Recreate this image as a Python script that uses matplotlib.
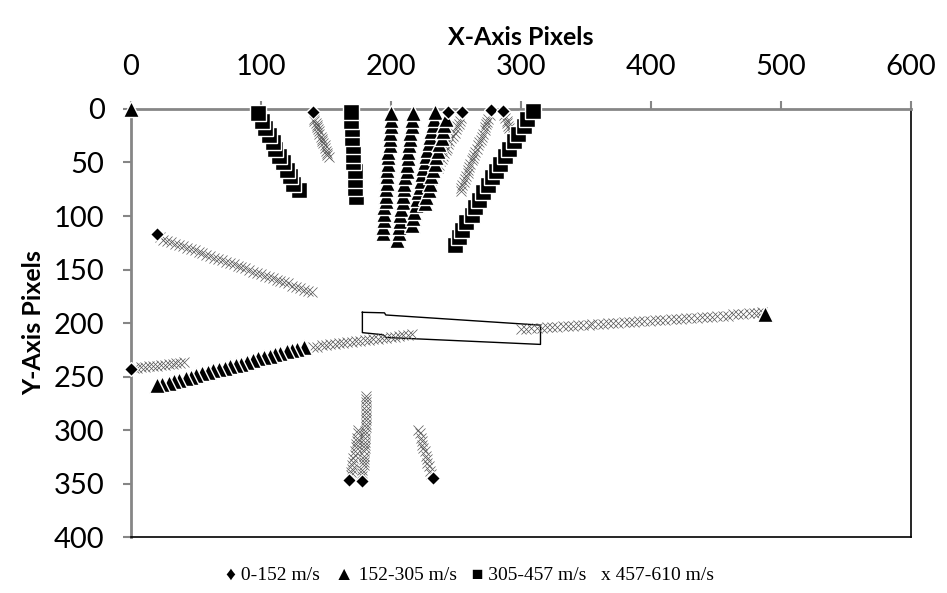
import matplotlib.pyplot as plt

plt.rcParams['font.family'] = ['Lato', 'DejaVu Sans']

# 0-152 m/s (diamonds, start points)
dia_x = [140, 20, 0, 244, 255, 277, 286, 168, 178, 232]
dia_y = [3, 117, 243, 3, 3, 1, 2, 347, 348, 345]

# 152-305 m/s (triangles)
t0_x, t0_y = [0], [0]
t6_x, t6_y = [488], [192]
t1_x = [200, 200, 200, 199, 199, 199, 198, 198, 198, 197, 197, 197, 196, 196, 196, 195, 195, 195, 194, 194]
t1_y = [4, 10, 16, 22, 28, 34, 40, 45, 51, 57, 63, 69, 75, 81, 86, 92, 98, 104, 110, 116]
t2_x = [217, 216, 216, 215, 215, 214, 213, 213, 212, 212, 211, 210, 210, 209, 209, 208, 207, 207, 206, 206, 205]
t2_y = [4, 10, 16, 22, 28, 34, 40, 46, 52, 58, 64, 70, 75, 81, 87, 93, 99, 105, 110, 116, 122]
t3_x = [234, 233, 232, 231, 230, 229, 228, 227, 226, 225, 224, 223, 222, 221, 220, 219, 218, 217, 216]
t3_y = [3, 9, 15, 21, 26, 32, 38, 44, 50, 55, 61, 67, 73, 78, 84, 90, 96, 102, 108]
t4_x = [242, 241, 240, 239, 237, 236, 235, 234, 232, 231, 230, 229, 227, 226]
t4_y = [9, 15, 21, 27, 33, 39, 45, 51, 57, 63, 70, 76, 82, 88]
t5_x = [20, 24, 29, 33, 37, 42, 46, 50, 55, 59, 63, 68, 72, 76, 81, 85, 89, 94, 98, 102, 107, 111, 115, 120, 124, 128, 133]
t5_y = [258, 257, 256, 254, 253, 251, 250, 249, 247, 246, 244, 243, 242, 240, 239, 238, 236, 235, 233, 232, 231, 229, 228, 226, 225, 224, 222]

# 305-457 m/s (squares)
s1_x = [98, 101, 103, 106, 109, 111, 114, 117, 120, 122, 125, 129]
s1_y = [4, 11, 18, 24, 31, 37, 44, 50, 57, 63, 70, 76]
s2_x = [169, 169, 170, 170, 171, 171, 171, 172, 172, 172, 173]
s2_y = [3, 11, 19, 27, 35, 43, 50, 58, 66, 74, 82]
s3_x = [309, 305, 302, 298, 295, 291, 288, 284, 281, 278, 275, 271, 268, 265, 262, 258, 255, 252, 249]
s3_y = [2, 9, 16, 23, 30, 37, 44, 51, 58, 64, 71, 78, 85, 92, 99, 106, 113, 120, 127]

# 457-610 m/s (x marks)
x1_x = [141, 141, 142, 143, 143, 144, 145, 145, 146, 147, 147, 148, 149, 149, 150, 151, 151, 152]
x1_y = [9, 11, 13, 15, 17, 19, 21, 23, 26, 28, 30, 32, 34, 36, 39, 41, 43, 45]
x2_x = [22, 25, 28, 31, 34, 37, 40, 43, 46, 49, 52, 55, 58, 61, 64, 67, 70, 73, 76, 79,
        82, 85, 88, 91, 94, 97, 100, 103, 106, 109, 112, 115, 118, 121, 124, 127, 130, 133, 136, 139]
x2_y = [120, 122, 123, 124, 126, 127, 128, 130, 131, 132, 134, 135, 136, 137, 139, 140, 141, 143, 144, 145,
        147, 148, 149, 150, 152, 153, 154, 156, 157, 158, 160, 161, 162, 163, 165, 166, 167, 169, 170, 171]
x3_x = [2, 5, 8, 11, 14, 17, 20, 23, 26, 29, 32, 35, 38, 41]
x3_y = [242, 242, 241, 241, 240, 240, 240, 239, 239, 238, 238, 237, 237, 236]
x4_x = [140, 143, 147, 150, 153, 157, 160, 163, 166, 170, 173, 176, 180, 183, 186, 190, 193, 196, 200, 203, 206, 209, 213, 216]
x4_y = [222, 222, 221, 221, 220, 220, 219, 219, 218, 218, 217, 217, 216, 216, 215, 215, 214, 214, 213, 213, 212, 211, 211, 210]
x5_x = [254, 253, 252, 251, 250, 249, 248, 246, 245, 244, 243, 242, 241, 240, 239, 238, 237, 236, 234, 233, 232, 231]
x5_y = [8, 11, 14, 16, 19, 22, 25, 27, 30, 33, 36, 38, 41, 44, 47, 49, 52, 55, 58, 60, 63, 66]
x6_x = [276, 275, 274, 273, 272, 272, 271, 270, 269, 268, 267, 266, 265, 264, 263, 262, 261, 260, 259, 259, 258, 257, 256, 255, 254, 254]
x6_y = [6, 9, 12, 14, 17, 20, 23, 26, 29, 31, 34, 37, 40, 43, 46, 48, 51, 54, 57, 60, 63, 65, 68, 71, 74, 77]
x7_x = [287, 288, 289, 289, 290, 291, 292, 293, 294, 295]
x7_y = [6, 8, 11, 13, 16, 18, 21, 23, 26, 28]
x8_x = [300, 304, 308, 312, 316, 320, 324, 328, 332, 336, 340, 344, 348, 352, 355, 359, 363, 367, 371, 375,
        379, 383, 387, 391, 395, 399, 403, 407, 411, 415, 419, 423, 427, 431, 435, 439, 443, 447, 451, 455,
        459, 463, 467, 471, 475, 479, 482, 485]
x8_y = [206, 206, 205, 205, 205, 204, 204, 204, 203, 203, 203, 202, 202, 202, 201, 201, 201, 200, 200, 200,
        199, 199, 199, 198, 198, 198, 197, 197, 197, 196, 196, 196, 195, 195, 195, 194, 194, 194, 193, 193,
        193, 192, 192, 192, 191, 191, 191, 190]
x9_x = [169, 169, 170, 170, 171, 171, 172, 172, 173, 173, 174, 174, 175, 175]
x9_y = [342, 339, 336, 333, 330, 326, 323, 320, 316, 313, 310, 307, 303, 300]
x10_x = [178, 178, 178, 179, 179, 179, 179, 179, 180, 180, 180, 180, 180, 180, 181, 181, 181, 181, 181, 181, 181, 181, 181, 181]
x10_y = [343, 340, 337, 333, 330, 327, 324, 320, 317, 314, 311, 307, 304, 301, 297, 294, 291, 288, 284, 281, 278, 274, 271, 268]
x11_x = [231, 230, 229, 228, 228, 227, 226, 225, 224, 224, 223, 222, 221]
x11_y = [341, 338, 334, 331, 327, 324, 320, 317, 314, 310, 307, 303, 300]

# outline of the body
body_x = [178, 195, 196, 315, 315, 196, 194, 178, 178]
body_y = [190, 190.5, 192.5, 202, 220, 213.5, 211, 209, 190]

fig = plt.figure(figsize=(9.47, 5.93), dpi=100)
ax = fig.add_axes([0.1383, 0.0944, 0.8237, 0.7218])

ax.plot(body_x, body_y, color="black", lw=1, zorder=2)

for xs, ys in [(x1_x, x1_y), (x2_x, x2_y), (x3_x, x3_y), (x4_x, x4_y), (x5_x, x5_y),
               (x6_x, x6_y), (x7_x, x7_y), (x8_x, x8_y), (x9_x, x9_y), (x10_x, x10_y), (x11_x, x11_y)]:
    ax.plot(xs, ys, ls="none", marker="x", ms=7, mew=0.5, color="#555555", zorder=3)

# earlier points sit on top, so draw each trail from its end
for xs, ys in [(s1_x, s1_y), (s2_x, s2_y), (s3_x, s3_y)]:
    ax.plot(xs[::-1], ys[::-1], ls="none", marker="s", ms=11.5, mfc="black",
            mec="white", mew=1, zorder=4, clip_on=False)

for xs, ys in [(t0_x, t0_y), (t1_x, t1_y), (t2_x, t2_y), (t3_x, t3_y), (t4_x, t4_y),
               (t5_x, t5_y), (t6_x, t6_y)]:
    ax.plot(xs[::-1], ys[::-1], ls="none", marker="^", ms=12, mfc="black",
            mec="white", mew=1, zorder=4, clip_on=False)

ax.plot(dia_x, dia_y, ls="none", marker="D", ms=7.5, mfc="black", mec="white",
        mew=1, zorder=5, clip_on=False)

ax.set_xlim(0, 600)
ax.set_ylim(400, 0)
ax.set_xticks(range(0, 601, 100))
ax.set_yticks(range(0, 401, 50))
ax.xaxis.tick_top()
ax.xaxis.set_label_position("top")
ax.tick_params(axis="x", direction="out", length=6, width=1.5, color="#868686",
               labelsize=21, pad=15)
ax.tick_params(axis="y", direction="out", length=6, width=1.5, color="#868686",
               labelsize=21, pad=13)

ax.spines["top"].set_color("#868686")
ax.spines["top"].set_linewidth(2)
ax.spines["left"].set_color("#868686")
ax.spines["left"].set_linewidth(2)
ax.spines["right"].set_color("black")
ax.spines["bottom"].set_color("black")
ax.spines["right"].set_linewidth(1.2)
ax.spines["bottom"].set_linewidth(1.2)

ax.set_xlabel("X-Axis Pixels", fontsize=18, fontweight="bold", labelpad=6)
ax.set_ylabel("Y-Axis Pixels", fontsize=18, fontweight="bold", labelpad=6)

fig.text(0.496, 0.03, "\u2666 0-152 m/s   \u25B2 152-305 m/s   \u25A0 305-457 m/s   x 457-610 m/s",
         ha="center", va="center", fontsize=14,
         family=["Liberation Serif", "DejaVu Serif"])

fig.savefig("out.png", dpi=100)
